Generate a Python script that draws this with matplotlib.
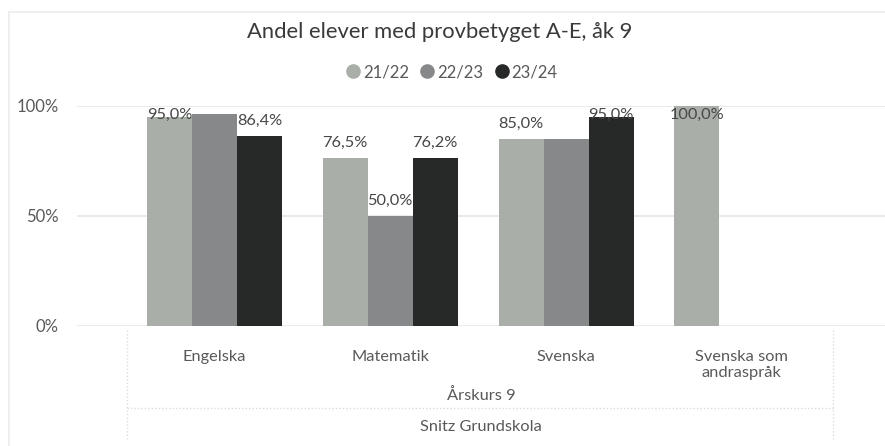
import matplotlib
matplotlib.use("Agg")
import matplotlib.pyplot as plt
from matplotlib.lines import Line2D
import numpy as np

# data
categories = ["Engelska", "Matematik", "Svenska", "Svenska som\nandraspråk"]
years = ["21/22", "22/23", "23/24"]
vals_2122 = [95.0, 76.5, 85.0, 100.0]
vals_2223 = [96.4, 50.0, 85.0, None]
vals_2324 = [86.4, 76.2, 95.0, None]
# labels that were hidden in the original (overlapping)
show_2223 = [False, True, False, False]

colors = ["#a9afa8", "#87888a", "#262927"]
txt_gray = "#595959"

plt.rcParams['font.family'] = ['Lato', 'DejaVu Sans']

W, H = 885, 446
fig = plt.figure(figsize=(W / 100, H / 100), dpi=100)

def fx(px):
    return px / W

def fy(py):
    return 1 - py / H

# plot area: 0% at y=326, 100% at y=106, left edge at x=77
ax = fig.add_axes([fx(77), fy(326), fx(885 - 77), (326 - 106) / H])

spacing = 175.8
xmin = -(214.5 - 77) / spacing
xmax = xmin + (885 - 77) / spacing
ax.set_xlim(xmin, xmax)
ax.set_ylim(0, 100)

bw = 45 / spacing
x = np.arange(len(categories))
series = [vals_2122, vals_2223, vals_2324]
shows = [[True] * 4, show_2223, [True] * 4]

for i, (vals, col, show) in enumerate(zip(series, colors, shows)):
    for j, v in enumerate(vals):
        if v is None:
            continue
        xp = x[j] + (i - 1) * bw
        ax.bar(xp, v, width=bw, color=col, zorder=3)
        if show[j]:
            ly = min(v + 5.0, 94.3)
            ax.text(xp, ly, f"{v:.1f}%".replace(".", ","), ha="center",
                    va="baseline", fontsize=11.8, color="#474747",
                    zorder=4, clip_on=False)

ax.set_yticks([0, 50, 100])
ax.set_yticklabels(["0%", "50%", "100%"])
ax.yaxis.grid(True, color="#e6e6e6", linewidth=1.2, zorder=0)
ax.tick_params(axis="y", length=0, pad=13, labelsize=12, labelcolor=txt_gray)
ax.set_xticks(x)
ax.set_xticklabels(categories)
ax.tick_params(axis="x", length=0, pad=17, labelsize=11.8, labelcolor=txt_gray)
for lbl in ax.get_xticklabels():
    lbl.set_verticalalignment("top")
    lbl.set_linespacing(1.2)
for s in ax.spines.values():
    s.set_visible(False)

# multi level axis labels
fig.text(fx(481), fy(396), "Årskurs 9", ha="center", va="center",
         fontsize=11.8, color=txt_gray)
fig.text(fx(481), fy(427), "Snitz Grundskola", ha="center", va="center",
         fontsize=11.8, color=txt_gray)
dot = dict(color="#dcdcdc", linewidth=1, linestyle=(0, (1, 1.5)))
fig.add_artist(Line2D([fx(127), fx(833)], [fy(408), fy(408)], **dot))
fig.add_artist(Line2D([fx(127), fx(127)], [fy(330), fy(440)], **dot))
fig.add_artist(Line2D([fx(833), fx(833)], [fy(330), fy(440)], **dot))

# chart frame
frame = dict(color="#ececec", linewidth=1.2)
fig.add_artist(Line2D([fx(9), fx(885)], [fy(12), fy(12)], **frame))
fig.add_artist(Line2D([fx(9), fx(9)], [fy(12), fy(446)], **frame))

fig.text(fx(440), fy(32), "Andel elever med provbetyget A-E, åk 9",
         ha="center", va="center", fontsize=15.8, color="#3a3a3a")

handles = [Line2D([], [], marker="o", linestyle="none", markersize=9.5,
                  markerfacecolor=c, markeredgecolor=c) for c in colors]
fig.legend(handles, years, loc="center", bbox_to_anchor=(fx(451), fy(72)),
           ncol=3, frameon=False, fontsize=12, handletextpad=0.1,
           columnspacing=0.6, handlelength=1.0, labelcolor=txt_gray)

fig.savefig("out.png", dpi=100)
